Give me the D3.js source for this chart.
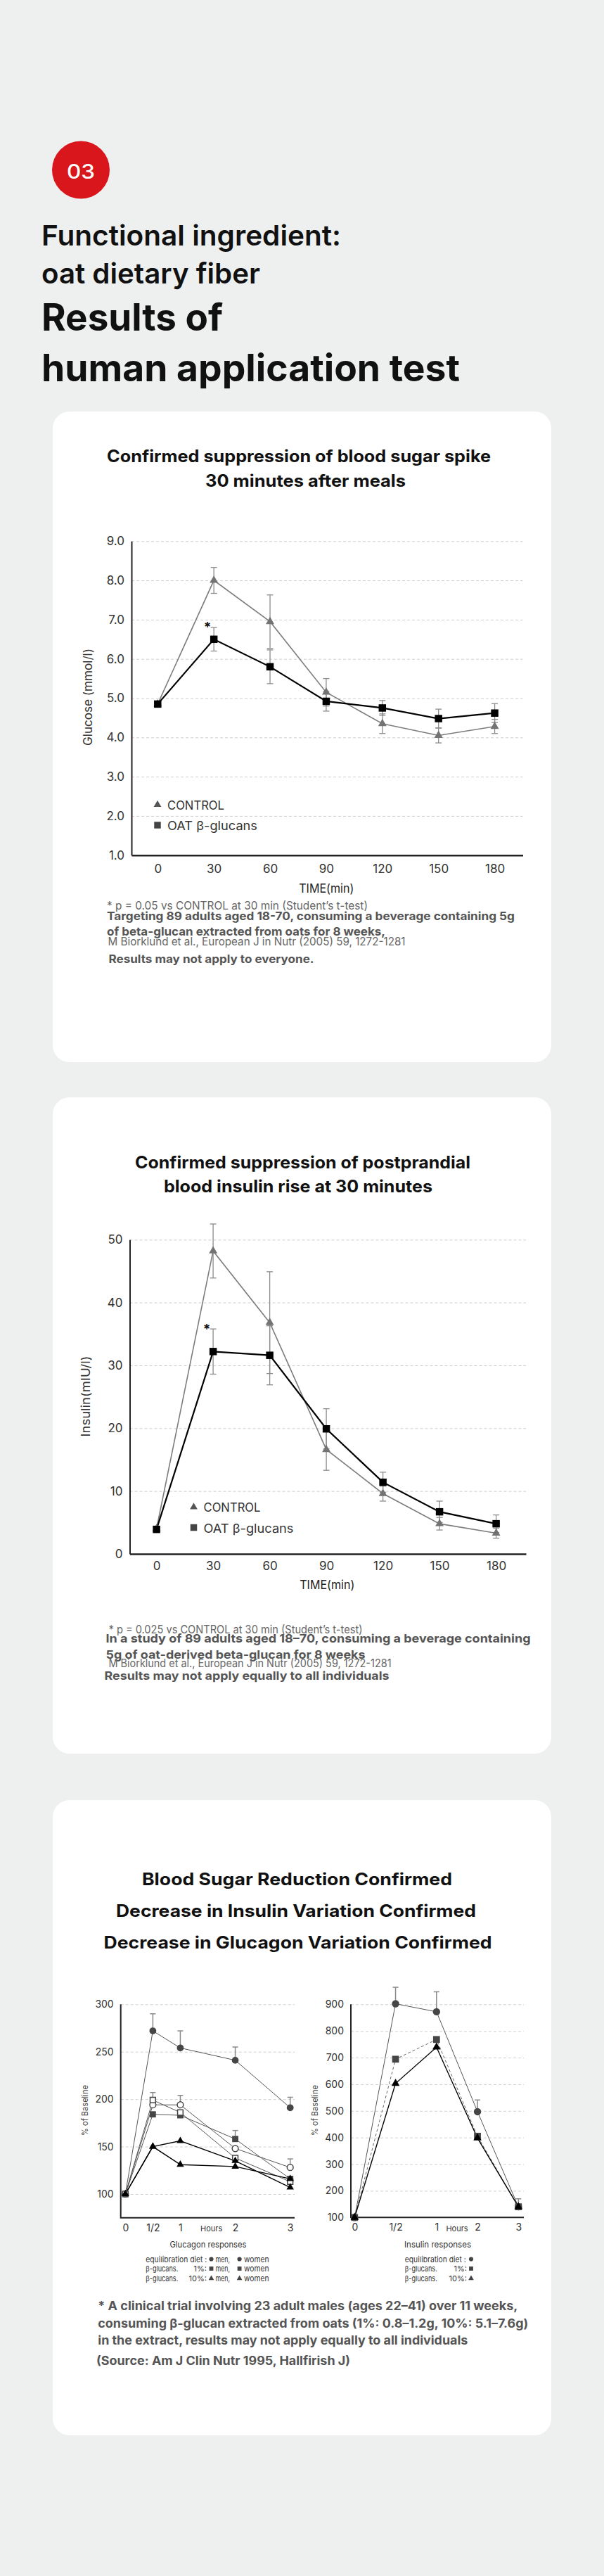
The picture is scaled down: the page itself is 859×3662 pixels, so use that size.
<!DOCTYPE html>
<html>
<head>
<meta charset="utf-8">
<script src="https://cdn.jsdelivr.net/npm/d3@7"></script>
<style>
    html, body { margin: 0; padding: 0; background: #eef0ef; }
    svg { display: block; }
    text { font-family: Inter, Roboto, sans-serif; }
</style>
</head>
<body>
<svg id="page" width="859" height="3662"></svg>
<script>
'use strict';

// ---- data ----
var minutes = [0, 30, 60, 90, 120, 150, 180];

var glucoseTicks = [1, 2, 3, 4, 5, 6, 7, 8, 9];
var glucoseControl = [4.85, 8.0, 6.95, 5.15, 4.35, 4.05, 4.28];
var glucoseControlErr = [0, 0.33, 0.68, 0.35, 0.25, 0.19, 0.18];
var glucoseOat = [4.85, 6.5, 5.8, 4.92, 4.75, 4.48, 4.62];
var glucoseOatErr = [0, 0.3, 0.43, 0.25, 0.19, 0.24, 0.24];

var insulinTicks = [0, 10, 20, 30, 40, 50];
var insulinControl = [4, 48.2, 36.8, 16.6, 9.6, 4.8, 3.3];
var insulinControlErr = [0, 4.3, 8.1, 3.3, 1.2, 1.0, 0.8];
var insulinOat = [3.9, 32.2, 31.6, 19.9, 11.4, 6.7, 4.8];
var insulinOatErr = [0, 3.6, 4.7, 3.2, 1.6, 1.7, 1.4];

var hours = [0, 0.5, 1, 2, 3];
var hourLabels = ['0', '1/2', '1', '2', '3'];

var glucagonTicks = [100, 150, 200, 250, 300];
var glucagonEqMen = [100, 272, 254, 241, 191];
var glucagonEqMenErr = [0, 18, 18, 14, 11];
var glucagonEqWomen = [100, 194, 194, 148, 128];
var glucagonEqWomenErr = [0, 0, 10, 0, 9];
var glucagonBg1Men = [100, 184, 183, 158, 116];
var glucagonBg1MenErr = [0, 0, 0, 9, 0];
var glucagonBg1Women = [100, 199, 186, 138, 113];
var glucagonBg1WomenErr = [0, 8, 0, 0, 0];
var glucagonBg10Men = [100, 150, 156, 135, 107];
var glucagonBg10Women = [100, 150, 131, 129, 116];

var insulinPctTicks = [100, 200, 300, 400, 500, 600, 700, 800, 900];
var insulinPctEq = [100, 902, 872, 497, 140];
var insulinPctEqErr = [0, 62, 75, 44, 30];
var insulinPctBg1 = [100, 694, 768, 405, 140];
var insulinPctBg10 = [100, 603, 739, 398, 140];


var svg = d3.select('#page');

function label(g, str, x, y, o) {
    var t = g.append('text')
        .attr('x', x)
        .attr('y', y)
        .attr('font-size', o.size)
        .attr('font-weight', o.weight || 400)
        .attr('fill', o.fill || '#111')
        .attr('text-anchor', o.anchor || 'start')
        .text(str);
    if (o.family) t.attr('font-family', o.family);
    if (o.len) t.attr('textLength', o.len).attr('lengthAdjust', 'spacingAndGlyphs');
    return t;
}

function card(y0, y1) {
    svg.append('rect')
        .attr('x', 75).attr('y', y0)
        .attr('width', 709).attr('height', y1 - y0)
        .attr('rx', 24)
        .attr('fill', '#fff');
}

function marker(g, type, size, x, y, fill, stroke) {
    g.append('path')
        .attr('d', d3.symbol().type(type).size(size)())
        .attr('transform', 'translate(' + x + ',' + y + ')')
        .attr('fill', fill)
        .attr('stroke', stroke || 'none')
        .attr('stroke-width', stroke ? 1.5 : 0);
}

// ---- header ----
svg.append('circle').attr('cx', 115).attr('cy', 241.5).attr('r', 41).attr('fill', '#d8161c');
label(svg, '03', 115, 254, {size: 28, weight: 500, fill: '#fff', anchor: 'middle', len: 40});
label(svg, 'Functional ingredient:', 59, 349, {size: 40, weight: 600, len: 426});
label(svg, 'oat dietary fiber', 59, 403, {size: 40, weight: 600, len: 311});
label(svg, 'Results of', 59, 470, {size: 53, weight: 700, len: 258});
label(svg, 'human application test', 59, 541.5, {size: 53, weight: 700, len: 595});

// ---- time course charts (glucose / insulin) ----
function timeChart(c) {
    var g = svg.append('g');
    var x = d3.scaleLinear().domain(c.xDomain).range([c.left, c.right]);
    var y = d3.scaleLinear().domain(c.yDomain).range([c.bottom, c.top]);

    var grid = g.append('g')
        .attr('transform', 'translate(' + c.left + ',0)')
        .call(d3.axisLeft(y).tickValues(c.yTicks.slice(1)).tickSize(-(c.right - c.left)).tickFormat(''));
    grid.select('.domain').remove();
    grid.selectAll('line').attr('stroke', '#cdcdcd').attr('stroke-dasharray', '4,3');

    var ya = g.append('g')
        .attr('transform', 'translate(' + c.left + ',0)')
        .call(d3.axisLeft(y).tickValues(c.yTicks).tickSize(0).tickPadding(10).tickFormat(c.yFmt));
    ya.attr('font-family', 'Roboto').attr('font-size', 17);
    ya.select('.domain').attr('stroke', '#222').attr('stroke-width', 2);
    ya.selectAll('text').attr('fill', '#333');

    var xa = g.append('g')
        .attr('transform', 'translate(0,' + c.bottom + ')')
        .call(d3.axisBottom(x).tickValues(minutes).tickSize(0).tickPadding(c.xPad).tickFormat(d3.format('d')));
    xa.attr('font-family', 'Roboto').attr('font-size', 17);
    xa.select('.domain').attr('stroke', '#222').attr('stroke-width', 2.5);
    xa.selectAll('text').attr('fill', '#333');

    label(g, 'TIME(min)', (c.left + c.right) / 2 - 1, c.timeY, {size: 17, fill: '#222', anchor: 'middle', family: 'Roboto', len: 78});

    label(g, c.yLabel, 0, 0, {size: 17, fill: '#333', anchor: 'middle', family: '"Noto Sans"', len: c.yLabelLen})
        .attr('dominant-baseline', 'central')
        .attr('transform', 'translate(' + c.yLabelX + ',' + c.yLabelY + ') rotate(-90)');

    var series = [
        {v: c.control, e: c.controlErr, color: '#7d7d7d', width: 1.6, sym: d3.symbolTriangle, size: 62, fill: '#737373'},
        {v: c.oat, e: c.oatErr, color: '#000', width: 2.2, sym: d3.symbolSquare, size: 110, fill: '#000'}
    ];
    var line = d3.line()
        .x(function(d, i) { return x(minutes[i]); })
        .y(function(d) { return y(d); });

    series.forEach(function(s) {
        var eb = g.append('g').attr('stroke', '#8c8c8c').attr('stroke-width', 1.3);
        minutes.forEach(function(t, i) {
            if (!s.e[i]) return;
            var cx = x(t), hi = y(s.v[i] + s.e[i]), lo = y(s.v[i] - s.e[i]);
            eb.append('line').attr('x1', cx).attr('x2', cx).attr('y1', hi).attr('y2', lo);
            eb.append('line').attr('x1', cx - 4.5).attr('x2', cx + 4.5).attr('y1', hi).attr('y2', hi);
            eb.append('line').attr('x1', cx - 4.5).attr('x2', cx + 4.5).attr('y1', lo).attr('y2', lo);
        });
    });

    series.forEach(function(s) {
        g.append('path').datum(s.v)
            .attr('d', line)
            .attr('fill', 'none')
            .attr('stroke', s.color)
            .attr('stroke-width', s.width);
    });

    series.forEach(function(s) {
        s.v.forEach(function(v, i) {
            marker(g, s.sym, s.size, x(minutes[i]), y(v), s.fill);
        });
    });

    // significance mark at 30 min
    label(g, '*', x(30) - 9, y(c.oat[1] + c.oatErr[1]) + c.starDy, {size: 19, weight: 700, fill: '#111', anchor: 'middle', family: 'Roboto'});

    // legend
    marker(g, d3.symbolTriangle, 50, c.legX, c.legY, '#555');
    label(g, 'CONTROL', c.legX + 14, c.legY + 6.5, {size: 17, fill: '#333', family: 'Roboto', len: 81});
    marker(g, d3.symbolSquare, 90, c.legX, c.legY + 29, '#444');
    label(g, 'OAT β-glucans', c.legX + 14, c.legY + 36, {size: 17, fill: '#333', family: 'Roboto', len: 128});
}

// card 1
card(585, 1510);
label(svg, 'Confirmed suppression of blood sugar spike', 425, 657, {size: 24, weight: 700, anchor: 'middle', len: 546});
label(svg, '30 minutes after meals', 434.5, 691.5, {size: 24, weight: 700, anchor: 'middle', len: 285});

timeChart({
    left: 187, right: 743.5, xDomain: [-14, 195],
    top: 769.3, bottom: 1215.7, yDomain: [1, 9],
    yTicks: glucoseTicks, yFmt: d3.format('.1f'), xPad: 13,
    control: glucoseControl, controlErr: glucoseControlErr,
    oat: glucoseOat, oatErr: glucoseOatErr,
    timeY: 1268.5,
    yLabel: 'Glucose (mmol/l)', yLabelX: 125, yLabelY: 991, yLabelLen: 138,
    legX: 224, legY: 1144, starDy: 5.5
});

var g1 = svg.append('g');
label(g1, '* p = 0.05 vs CONTROL at 30 min (Student\u2019s t-test)', 152, 1293, {size: 16, fill: '#666', family: 'Roboto', len: 371});
label(g1, 'Targeting 89 adults aged 18-70, consuming a beverage containing 5g', 152, 1307.5, {size: 16.5, weight: 700, fill: '#555', family: 'Roboto', len: 580});
label(g1, 'of beta-glucan extracted from oats for 8 weeks,', 152, 1330, {size: 16.5, weight: 700, fill: '#555', family: 'Roboto', len: 396});
label(g1, 'M Biorklund et al., European J in Nutr (2005) 59, 1272-1281', 153.5, 1343.5, {size: 16, fill: '#666', family: 'Roboto', len: 423});
label(g1, 'Results may not apply to everyone.', 154.5, 1369, {size: 16.5, weight: 700, fill: '#555', family: 'Roboto', len: 292});

// card 2
card(1560, 2493);
label(svg, 'Confirmed suppression of postprandial', 430.5, 1660.5, {size: 24, weight: 700, anchor: 'middle', len: 477});
label(svg, 'blood insulin rise at 30 minutes', 424, 1695, {size: 24, weight: 700, anchor: 'middle', len: 382});

timeChart({
    left: 184.5, right: 748, xDomain: [-14.2, 195.8],
    top: 1762.3, bottom: 2209, yDomain: [0, 50],
    yTicks: insulinTicks, yFmt: d3.format('d'), xPad: 11,
    control: insulinControl, controlErr: insulinControlErr,
    oat: insulinOat, oatErr: insulinOatErr,
    timeY: 2259,
    yLabel: 'Insulin(mIU/l)', yLabelX: 122, yLabelY: 1985, yLabelLen: 115,
    legX: 275.5, legY: 2142.5, starDy: 7
});

var g2 = svg.append('g');
label(g2, '* p = 0.025 vs CONTROL at 30 min (Student\u2019s t-test)', 154.5, 2321.5, {size: 16, fill: '#666', family: 'Roboto', len: 361});
label(g2, 'In a study of 89 adults aged 18\u201370, consuming a beverage containing', 150.5, 2334.5, {size: 16.5, weight: 700, fill: '#555', family: 'Roboto', len: 604});
label(g2, '5g of oat-derived beta-glucan for 8 weeks', 150.5, 2357.5, {size: 16.5, weight: 700, fill: '#555', family: 'Roboto', len: 369});
label(g2, 'M Biorklund et al., European J in Nutr (2005) 59, 1272-1281', 154.5, 2369.5, {size: 16, fill: '#666', family: 'Roboto', len: 402});
label(g2, 'Results may not apply equally to all individuals', 148.5, 2387.5, {size: 16.5, weight: 700, fill: '#555', family: 'Roboto', len: 405});

// ---- card 3: percent of baseline charts ----
card(2559, 3462);
label(svg, 'Blood Sugar Reduction Confirmed', 422.5, 2679.5, {size: 24, weight: 700, anchor: 'middle', len: 441});
label(svg, 'Decrease in Insulin Variation Confirmed', 421, 2725, {size: 24, weight: 700, anchor: 'middle', len: 512});
label(svg, 'Decrease in Glucagon Variation Confirmed', 423.5, 2770, {size: 24, weight: 700, anchor: 'middle', len: 552});

function pctChart(c) {
    var g = svg.append('g');
    var x = c.x, y = c.y;

    var grid = g.append('g')
        .attr('transform', 'translate(' + c.left + ',0)')
        .call(d3.axisLeft(y).tickValues(c.gridTicks).tickSize(-(c.right - c.left)).tickFormat(''));
    grid.select('.domain').remove();
    grid.selectAll('line').attr('stroke', '#d0d0d0').attr('stroke-dasharray', '4,3');

    var ya = g.append('g')
        .attr('transform', 'translate(' + c.left + ',0)')
        .call(d3.axisLeft(y).tickValues(c.yTicks).tickSize(0).tickPadding(10));
    ya.attr('font-family', '"Noto Sans"').attr('font-size', 14);
    ya.select('.domain').remove();
    ya.selectAll('text').attr('fill', '#333');

    var xa = g.append('g')
        .attr('transform', 'translate(0,' + c.bottom + ')')
        .call(d3.axisBottom(x).tickValues(c.xTicks).tickSize(0).tickPadding(9).tickFormat(c.xFmt));
    xa.attr('font-family', '"Noto Sans"').attr('font-size', 14);
    xa.select('.domain').remove();
    xa.selectAll('text').attr('fill', '#333');

    g.append('path')
        .attr('d', 'M' + c.left + ',' + c.y.range()[1] + 'V' + c.bottom + 'H' + c.right)
        .attr('fill', 'none')
        .attr('stroke', '#222')
        .attr('stroke-width', 2);

    label(g, 'Hours', c.hoursX, c.bottom + 19.5, {size: 11, fill: '#333', anchor: 'middle', family: '"Noto Sans"'});

    label(g, '% of Baseline', 0, 0, {size: 12, fill: '#444', anchor: 'middle', family: '"Noto Sans"', len: 72})
        .attr('dominant-baseline', 'central')
        .attr('transform', 'translate(' + c.yLabelX + ',3000) rotate(-90)');

    var line = d3.line()
        .x(function(d, i) { return x(c.xs[i]); })
        .y(function(d) { return y(d); });

    c.series.forEach(function(s) {
        g.append('path').datum(s.v)
            .attr('d', line)
            .attr('fill', 'none')
            .attr('stroke', s.color)
            .attr('stroke-width', s.width)
            .attr('stroke-dasharray', s.dash || null);
    });

    c.series.forEach(function(s) {
        if (!s.e) return;
        var eb = g.append('g').attr('stroke', '#8a8a8a').attr('stroke-width', 1.5);
        s.e.forEach(function(err, i) {
            if (!err) return;
            var cx = x(c.xs[i]), hi = y(s.v[i] + err);
            eb.append('line').attr('x1', cx).attr('x2', cx).attr('y1', y(s.v[i])).attr('y2', hi);
            eb.append('line').attr('x1', cx - 4).attr('x2', cx + 4).attr('y1', hi).attr('y2', hi);
        });
    });

    c.series.forEach(function(s) {
        s.v.forEach(function(v, i) {
            marker(g, s.sym, s.size, x(c.xs[i]), y(v), s.fill, s.stroke);
        });
    });
}

var gcx = d3.scaleLinear().domain([0, 3]).range([178.3, 412.7]);
var gcy = d3.scaleLinear().domain([75, 300]).range([3152.7, 2849.3]);

pctChart({
    x: gcx, y: gcy, xs: hours, xTicks: hours,
    xFmt: function(d, i) { return hourLabels[i]; },
    left: 171.7, right: 419, bottom: 3152.7,
    yTicks: glucagonTicks, gridTicks: glucagonTicks,
    hoursX: 300.7, yLabelX: 120,
    series: [
        {v: glucagonEqMen, e: glucagonEqMenErr, color: '#555', width: 1, sym: d3.symbolCircle, size: 75, fill: '#464646'},
        {v: glucagonEqWomen, e: glucagonEqWomenErr, color: '#555', width: 1, sym: d3.symbolCircle, size: 60, fill: '#fff', stroke: '#444'},
        {v: glucagonBg1Men, e: glucagonBg1MenErr, color: '#555', width: 1, sym: d3.symbolSquare, size: 78, fill: '#464646'},
        {v: glucagonBg1Women, e: glucagonBg1WomenErr, color: '#555', width: 1, sym: d3.symbolSquare, size: 60, fill: '#fff', stroke: '#444'},
        {v: glucagonBg10Men, color: '#000', width: 1.4, sym: d3.symbolTriangle, size: 48, fill: '#000'},
        {v: glucagonBg10Women, color: '#000', width: 1.4, sym: d3.symbolTriangle, size: 48, fill: '#000'}
    ]
});

var inx = d3.scalePoint().domain(hourLabels).range([504.3, 737.3]);
var iny = d3.scaleLinear().domain([100, 900]).range([3152.3, 2849.3]);

pctChart({
    x: inx, y: iny, xs: hourLabels, xTicks: hourLabels,
    xFmt: function(d) { return d; },
    left: 499, right: 745, bottom: 3152.3,
    yTicks: insulinPctTicks, gridTicks: insulinPctTicks.slice(1),
    hoursX: 650, yLabelX: 447,
    series: [
        {v: insulinPctEq, e: insulinPctEqErr, color: '#555', width: 1, sym: d3.symbolCircle, size: 85, fill: '#464646'},
        {v: insulinPctBg1, color: '#666', width: 1, dash: '4,3', sym: d3.symbolSquare, size: 95, fill: '#464646'},
        {v: insulinPctBg10, color: '#000', width: 1.4, sym: d3.symbolTriangle, size: 58, fill: '#000'}
    ]
});

// legends under the two small charts
var lg = svg.append('g');
var legendSyms = [d3.symbolCircle, d3.symbolSquare, d3.symbolTriangle];
var legendSizes = [30, 34, 26];
var legendNames = ['equilibration diet :', 'β-glucans.', 'β-glucans.'];
var legendPcts = ['', '1%:', '10%:'];
var rowY = [3215.5, 3229, 3243];

label(lg, 'Glucagon responses', 296, 3195, {size: 12, fill: '#333', anchor: 'middle', family: 'Roboto', len: 109});
label(lg, 'Insulin responses', 622.5, 3195, {size: 12, fill: '#333', anchor: 'middle', family: 'Roboto', len: 95});

rowY.forEach(function(ry, i) {
    var nameLen = i === 0 ? 87 : 46;
    // glucagon block
    label(lg, legendNames[i], 207.3, ry, {size: 11, fill: '#333', family: 'Roboto', len: nameLen});
    if (legendPcts[i]) label(lg, legendPcts[i], 294, ry, {size: 11, fill: '#333', family: 'Roboto', anchor: 'end'});
    marker(lg, legendSyms[i], legendSizes[i], 300.5, ry - 4, '#444');
    label(lg, 'men,', 306.5, ry, {size: 11, fill: '#333', family: 'Roboto', len: 20.5});
    marker(lg, legendSyms[i], legendSizes[i], 340.6, ry - 4, '#444');
    label(lg, 'women', 347, ry, {size: 11, fill: '#333', family: 'Roboto', len: 35.5});
    // insulin block
    label(lg, legendNames[i], 575.8, ry, {size: 11, fill: '#333', family: 'Roboto', len: nameLen});
    if (legendPcts[i]) label(lg, legendPcts[i], 664, ry, {size: 11, fill: '#333', family: 'Roboto', anchor: 'end'});
    marker(lg, legendSyms[i], legendSizes[i], 670, ry - 4, '#444');
});

var g3 = svg.append('g');
label(g3, '* A clinical trial involving 23 adult males (ages 22\u201341) over 11 weeks,', 139.3, 3284, {size: 17, weight: 700, fill: '#555', family: 'Roboto', len: 597});
label(g3, 'consuming β-glucan extracted from oats (1%: 0.8\u20131.2g, 10%: 5.1\u20137.6g)', 139.3, 3308.5, {size: 17, weight: 700, fill: '#555', family: 'Roboto', len: 612});
label(g3, 'in the extract, results may not apply equally to all individuals', 139.3, 3332.5, {size: 17, weight: 700, fill: '#555', family: 'Roboto', len: 526});
label(g3, '(Source: Am J Clin Nutr 1995, Hallfirish J)', 137, 3362, {size: 17, weight: 700, fill: '#555', family: 'Roboto', len: 361});
</script>
</body>
</html>
